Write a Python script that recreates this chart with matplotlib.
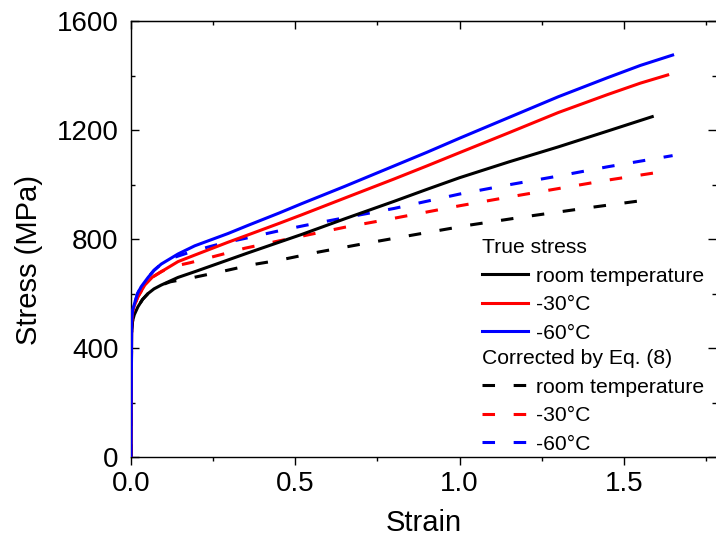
import numpy as np
import matplotlib
matplotlib.use("Agg")
import matplotlib.pyplot as plt
from matplotlib.ticker import MultipleLocator, FormatStrFormatter

plt.rcParams["font.family"] = ["Liberation Sans", "DejaVu Sans"]

# true stress curves
strain_rt = [0, 0.001, 0.002, 0.005, 0.01, 0.021, 0.035, 0.052, 0.07, 0.092, 0.143, 0.194, 0.295,
             0.356, 0.45, 0.52, 0.65, 0.8, 0.9, 1.0, 1.15, 1.3, 1.45, 1.586]
stress_rt = [0, 250, 466, 500, 522, 551, 578, 600, 617, 631, 659, 680, 723,
             749, 788, 817, 874, 938, 982, 1025, 1083, 1138, 1196, 1249]

strain_30 = [0, 0.001, 0.002, 0.005, 0.01, 0.021, 0.042, 0.065, 0.092, 0.143, 0.194, 0.295, 0.356,
             0.45, 0.52, 0.65, 0.8, 0.9, 1.0, 1.15, 1.3, 1.45, 1.55, 1.633]
stress_30 = [0, 260, 490, 530, 555, 588, 631, 660, 680, 717, 741, 788, 815,
             857, 889, 950, 1020, 1068, 1117, 1190, 1264, 1330, 1372, 1402]

strain_60 = [0, 0.001, 0.002, 0.005, 0.011, 0.02, 0.031, 0.052, 0.07, 0.092, 0.143, 0.194, 0.295,
             0.356, 0.45, 0.52, 0.65, 0.8, 0.9, 1.0, 1.15, 1.3, 1.45, 1.55, 1.648]
stress_60 = [0, 280, 500, 540, 564, 600, 625, 659, 685, 708, 745, 775, 820,
             850, 895, 930, 993, 1068, 1118, 1170, 1246, 1322, 1392, 1437, 1475]

# corrected by Eq. (8)
corr_strain_rt = [0, 0.001, 0.002, 0.005, 0.01, 0.021, 0.035, 0.052, 0.07, 0.092, 0.12, 0.183, 0.285,
                  0.37, 0.45, 0.57, 0.7, 0.85, 1.03, 1.2, 1.4, 1.586]
corr_stress_rt = [0, 250, 466, 500, 522, 551, 578, 600, 617, 631, 643, 657, 683,
                  706, 722, 752, 781, 813, 851, 882, 916, 946]

corr_strain_30 = [0, 0.001, 0.002, 0.005, 0.01, 0.021, 0.042, 0.065, 0.092, 0.12, 0.18, 0.275, 0.346,
                  0.45, 0.53, 0.65, 0.8, 1.0, 1.15, 1.3, 1.45, 1.633]
corr_stress_30 = [0, 260, 490, 530, 555, 588, 631, 660, 680, 697, 713, 743, 766,
                  793, 813, 843, 876, 922, 954, 985, 1016, 1050]

corr_strain_60 = [0, 0.001, 0.002, 0.005, 0.011, 0.02, 0.031, 0.052, 0.07, 0.092, 0.12, 0.19, 0.28,
                  0.35, 0.45, 0.53, 0.65, 0.8, 1.0, 1.15, 1.3, 1.45, 1.648]
corr_stress_60 = [0, 280, 500, 540, 564, 600, 625, 659, 685, 708, 728, 756, 785,
                  803, 830, 850, 878, 912, 965, 999, 1031, 1065, 1106]

labels = ["room temperature", "-30\u00b0C", "-60\u00b0C"]
colors = ["black", "red", "blue"]

fig = plt.figure(figsize=(7.16, 5.42), dpi=100)
ax = fig.add_axes([131 / 716, 85 / 542, 585 / 716, 436 / 542])

lw = 2.2
dash = (0, (4.1, 6.1))

dashed = []
for x, y, c, lab in zip([corr_strain_rt, corr_strain_30, corr_strain_60],
                        [corr_stress_rt, corr_stress_30, corr_stress_60], colors, labels):
    (l,) = ax.plot(x, y, color=c, lw=lw, ls=dash, label=lab, zorder=2)
    dashed.append(l)

solid = []
for x, y, c, lab in zip([strain_rt, strain_30, strain_60], [stress_rt, stress_30, stress_60], colors, labels):
    (l,) = ax.plot(x, y, color=c, lw=lw, label=lab, zorder=3)
    solid.append(l)

ax.set_xlim(0, 1.78)
ax.set_ylim(0, 1600)
ax.xaxis.set_major_locator(MultipleLocator(0.5))
ax.xaxis.set_minor_locator(MultipleLocator(0.25))
ax.yaxis.set_major_locator(MultipleLocator(400))
ax.yaxis.set_minor_locator(MultipleLocator(200))
ax.xaxis.set_major_formatter(FormatStrFormatter("%.1f"))

ax.tick_params(axis="x", which="both", direction="out", labelsize=20, pad=4)
ax.tick_params(axis="x", which="major", length=6, width=1)
ax.tick_params(axis="x", which="minor", length=3, width=1)
ax.tick_params(axis="y", which="both", direction="in", right=True, labelsize=20, pad=9)
ax.tick_params(axis="y", which="major", length=6, width=1)
ax.tick_params(axis="y", which="minor", length=3, width=1)
ax.spines["right"].set_visible(False)
for s in ["left", "bottom", "top"]:
    ax.spines[s].set_linewidth(1)

top = ax.secondary_xaxis("top")
top.xaxis.set_major_locator(MultipleLocator(0.5))
top.xaxis.set_minor_locator(MultipleLocator(0.25))
top.tick_params(which="both", direction="in", labeltop=False, width=1)
top.tick_params(which="major", length=6)
top.tick_params(which="minor", length=3)

ax.set_xlabel("Strain", fontsize=21, labelpad=9)
ax.set_ylabel("Stress (MPa)", fontsize=21)
ax.yaxis.set_label_coords(-0.150, 0.452)

leg_kw = dict(loc="upper left", frameon=False, fontsize=15.2, title_fontsize=15.2, alignment="left",
              handlelength=2.2, handletextpad=0.35, labelspacing=0.45, borderpad=0, borderaxespad=0)
leg1 = ax.legend(handles=solid, labels=labels, title="True stress", bbox_to_anchor=(0.6, 0.502), **leg_kw)
ax.add_artist(leg1)
leg2 = ax.legend(handles=dashed, labels=labels, title="Corrected by Eq. (8)", bbox_to_anchor=(0.6, 0.247),
                 **leg_kw)

fig.savefig("out.png", dpi=100)
